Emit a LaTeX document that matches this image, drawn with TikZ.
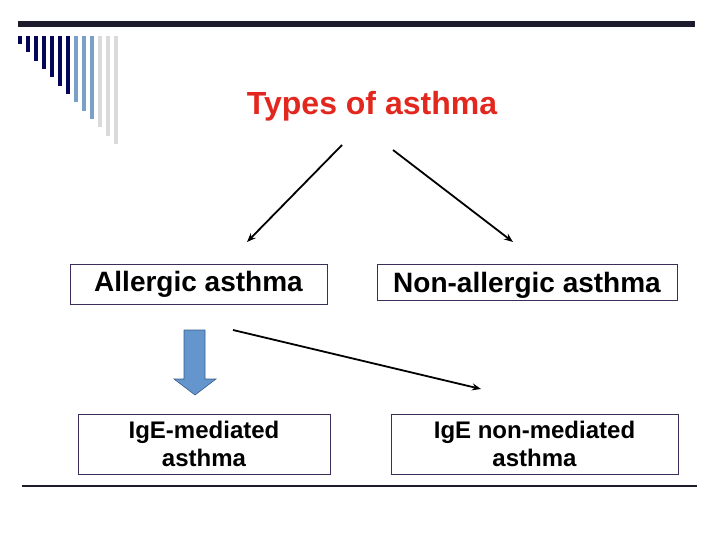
\documentclass[tikz,border=0pt]{standalone}
\usepackage{fontspec}
\setmainfont{Liberation Sans}
\usetikzlibrary{arrows.meta}
\definecolor{topbar}{RGB}{28,28,44}
\definecolor{navybar}{RGB}{5,5,90}
\definecolor{bluebar}{RGB}{122,160,200}
\definecolor{graybar}{RGB}{218,218,218}
\definecolor{titlered}{RGB}{226,40,30}
\definecolor{boxline}{RGB}{60,45,90}
\definecolor{arrowfill}{RGB}{100,150,205}
\definecolor{arrowline}{RGB}{56,93,138}
\begin{document}
\begin{tikzpicture}[x=1pt,y=-1pt,
  box/.style={draw=boxline, line width=0.8pt, rectangle, inner sep=0pt, align=center},
  bigtext/.style={font=\bfseries\fontsize{28}{30}\selectfont},
  smalltext/.style={font=\bfseries\fontsize{24}{28}\selectfont},
  conn/.style={line width=1.8pt, -{Stealth[length=9pt,width=7pt]}}]
\useasboundingbox (0,0) rectangle (720,540);
% top bar
\fill[topbar] (18,21) rectangle (695,27);
% vertical bars
\foreach \i in {0,...,12}{
  \pgfmathsetmacro{\xx}{18+8*\i}
  \pgfmathsetmacro{\yy}{44+8.33*\i}
  \ifnum\i<7 \def\cc{navybar}\else\ifnum\i<10 \def\cc{bluebar}\else\def\cc{graybar}\fi\fi
  \fill[\cc] (\xx,36) rectangle ({\xx+4},\yy);
}
% title
\node[text=titlered, font=\bfseries\fontsize{32}{36}\selectfont, anchor=base, inner sep=0pt] (title) at (372,115) {Types of asthma};
% boxes
\node[box, bigtext, minimum width=257pt, minimum height=40pt] (allergic) at (198.5,284) {Allergic asthma};
\node[box, bigtext, minimum width=300pt, minimum height=36pt, text height=22pt, text depth=2pt] (nonallergic) at (527,282) {Non-allergic asthma};
\node[box, smalltext, minimum width=252pt, minimum height=60pt] (ige) at (204,444) {IgE-mediated\\asthma};
\node[box, smalltext, minimum width=287pt, minimum height=60pt] (nonige) at (534.5,444) {IgE non-mediated\\asthma};
% arrows
\coordinate (a1s) at (342,145);
\coordinate (a1e) at (247,242);
\coordinate (a2s) at (393,150);
\coordinate (a2e) at (513,242);
\coordinate (a3s) at (233,330);
\coordinate (a3e) at (481,389);
\draw[conn] (a1s) -- (a1e);
\draw[conn] (a2s) -- (a2e);
\draw[conn] (a3s) -- (a3e);
% block arrow
\draw[fill=arrowfill, draw=arrowline, line width=0.6pt]
  (184,330) -- (205,330) -- (205,379) -- (216,379) -- (195,395) -- (174,379) -- (184,379) -- cycle;
% bottom line
\draw[topbar, line width=2pt] (22,486) -- (697,486);
\end{tikzpicture}
\end{document}
